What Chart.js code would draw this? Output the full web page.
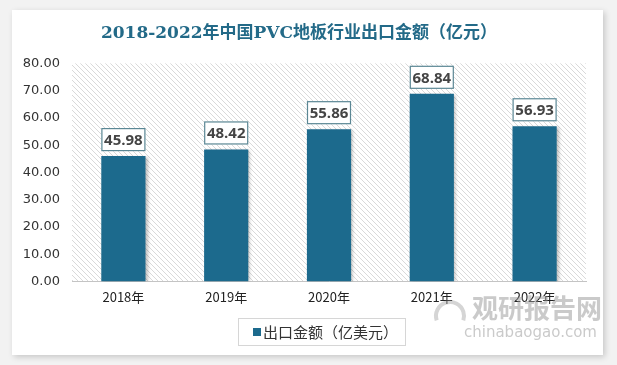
<!DOCTYPE html>
<html>
<head>
<meta charset="utf-8">
<script src="https://cdn.jsdelivr.net/npm/chart.js@4.4.0/dist/chart.umd.min.js"></script>
<style>
  html, body { margin: 0; padding: 0; }
  body { width: 617px; height: 365px; background: #f2f2f2; position: relative; overflow: hidden; }
  .card {
    position: absolute; left: 12px; top: 10px; width: 591px; height: 345px;
    background: #fff; box-shadow: 2px 2px 6px rgba(0,0,0,0.18);
  }
  canvas { display: block; }
</style>
</head>
<body>
<div class="card"><canvas id="chart" width="591" height="345"></canvas></div>
<script>
// data
const years = ['2018年', '2019年', '2020年', '2021年', '2022年'];
const exportValues = [45.98, 48.42, 55.86, 68.84, 56.93];
const seriesName = '出口金额（亿美元）';
const titleText = '2018-2022年中国PVC地板行业出口金额（亿元）';

const barColor = '#1c6a8d';

// hatched plot background
function makeHatch() {
    const c = document.createElement('canvas');
    c.width = 5; c.height = 5;
    const g = c.getContext('2d');
    g.strokeStyle = '#d9d9d9';
    g.lineWidth = 1;
    g.beginPath();
    g.moveTo(0, 0); g.lineTo(5, 5);
    g.moveTo(-1, 4); g.lineTo(1, 6);
    g.moveTo(4, -1); g.lineTo(6, 1);
    g.stroke();
    return c;
}

const areaBg = {
    id: 'areaBg',
    beforeDraw(chart) {
        const { ctx, chartArea: a } = chart;
        ctx.save();
        ctx.fillStyle = ctx.createPattern(makeHatch(), 'repeat');
        ctx.fillRect(a.left, a.top, a.right - a.left, a.bottom - a.top);
        ctx.restore();
    }
};

const barShadow = {
    id: 'barShadow',
    beforeDatasetsDraw(chart) {
        const ctx = chart.ctx;
        ctx.save();
        ctx.shadowColor = 'rgba(0,0,0,0.25)';
        ctx.shadowBlur = 3;
        ctx.shadowOffsetX = 2;
        ctx.shadowOffsetY = 1;
    },
    afterDatasetsDraw(chart) {
        chart.ctx.restore();
    }
};

const valueLabels = {
    id: 'valueLabels',
    afterDatasetsDraw(chart) {
        const ctx = chart.ctx;
        const meta = chart.getDatasetMeta(0);
        ctx.save();
        ctx.font = 'bold 15px "Open Sans", sans-serif';
        ctx.textAlign = 'center';
        ctx.textBaseline = 'middle';
        meta.data.forEach((bar, i) => {
            const txt = exportValues[i].toFixed(2);
            const w = 44, h = 23;
            const x = bar.x - w / 2;
            const y = bar.y - 5 - h;
            ctx.fillStyle = '#fff';
            ctx.fillRect(x, y, w, h);
            ctx.strokeStyle = '#5b8794';
            ctx.lineWidth = 1.2;
            ctx.strokeRect(x + 0.5, y + 0.5, w - 1, h - 1);
            ctx.fillStyle = '#444';
            ctx.fillText(txt, bar.x, y + h / 2 + 1);
        });
        ctx.restore();
    }
};

// legend in a bordered box, plus the watermark
const legendAndMark = {
    id: 'legendAndMark',
    afterDraw(chart) {
        const ctx = chart.ctx;
        ctx.save();
        ctx.strokeStyle = '#d6d6d6';
        ctx.lineWidth = 1;
        ctx.strokeRect(226.5, 308.5, 167, 27);
        ctx.fillStyle = barColor;
        ctx.fillRect(241, 318, 8, 8);
        ctx.fillStyle = '#333';
        ctx.font = '15px "Noto Sans CJK SC", sans-serif';
        ctx.textBaseline = 'middle';
        ctx.textAlign = 'left';
        ctx.fillText(seriesName, 251, 322);
        ctx.restore();

        ctx.save();
        ctx.fillStyle = 'rgba(150,150,150,0.5)';
        ctx.textAlign = 'left';
        ctx.textBaseline = 'middle';
        ctx.font = 'bold 26px "Noto Sans CJK SC", sans-serif';
        ctx.fillText('观研报告网', 460, 298);
        ctx.font = '15px "DejaVu Sans", sans-serif';
        ctx.fillText('chinabaogao.com', 452, 323);
        ctx.strokeStyle = 'rgba(150,150,150,0.4)';
        ctx.lineWidth = 4;
        ctx.beginPath();
        ctx.arc(438, 306, 14, Math.PI * 0.9, Math.PI * 2.1);
        ctx.stroke();
        ctx.restore();
    }
};

new Chart(document.getElementById('chart'), {
    type: 'bar',
    data: {
        labels: years,
        datasets: [{
            label: seriesName,
            data: exportValues,
            backgroundColor: barColor,
            borderWidth: 0,
            categoryPercentage: 1,
            barPercentage: 0.43
        }]
    },
    options: {
        responsive: false,
        animation: false,
        layout: { padding: { left: 0, right: 17, top: 0, bottom: 42 } },
        plugins: {
            title: {
                display: true,
                text: titleText,
                color: '#236a88',
                font: { family: '"DejaVu Serif", "Noto Sans CJK SC", serif', size: 17, weight: 'bold' },
                padding: { top: 13, bottom: 20 }
            },
            legend: { display: false },
            tooltip: { enabled: false }
        },
        scales: {
            x: {
                grid: { display: false, drawTicks: false },
                border: { color: '#c4c4c4' },
                ticks: {
                    color: '#222',
                    padding: 8,
                    font: { family: '"Noto Sans CJK SC", sans-serif', size: 13 }
                }
            },
            y: {
                min: 0,
                max: 80,
                grid: { display: false, drawTicks: false },
                border: { display: false },
                afterFit(scale) { scale.width = 60; },
                ticks: {
                    stepSize: 10,
                    color: '#333',
                    padding: 12,
                    font: { family: '"DejaVu Sans", sans-serif', size: 13 },
                    callback: v => v.toFixed(2)
                }
            }
        }
    },
    plugins: [areaBg, barShadow, valueLabels, legendAndMark]
});
</script>
</body>
</html>
